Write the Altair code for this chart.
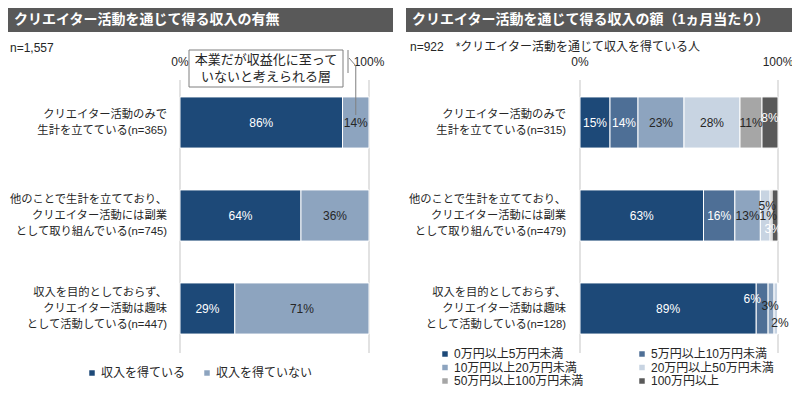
import altair as alt
import pandas as pd

FONT = "Liberation Sans, Noto Sans CJK JP, sans-serif"
TEXT_DARK = "#262626"

# ---------------- data ----------------
left_title = "クリエイター活動を通じて得る収入の有無"
right_title = "クリエイター活動を通じて得る収入の額（1ヵ月当たり）"
left_note = "n=1,557"
right_note = "n=922　*クリエイター活動を通じて収入を得ている人"
callout_text = "本業だが収益化に至って\nいないと考えられる層"

left_rows = [
    "クリエイター活動のみで\n生計を立てている(n=365)",
    "他のことで生計を立てており、\nクリエイター活動には副業\nとして取り組んでいる(n=745)",
    "収入を目的としておらず、\nクリエイター活動は趣味\nとして活動している(n=447)",
]
right_rows = [
    "クリエイター活動のみで\n生計を立てている(n=315)",
    "他のことで生計を立てており、\nクリエイター活動には副業\nとして取り組んでいる(n=479)",
    "収入を目的としておらず、\nクリエイター活動は趣味\nとして活動している(n=128)",
]
left_series = ["収入を得ている", "収入を得ていない"]
left_values = [[86, 14], [64, 36], [29, 71]]

right_series = [
    "0万円以上5万円未満",
    "5万円以上10万円未満",
    "10万円以上20万円未満",
    "20万円以上50万円未満",
    "50万円以上100万円未満",
    "100万円以上",
]
right_values = [
    [15, 14, 23, 28, 11, 8],
    [63, 16, 13, 5, 1, 3],
    [89, 6, 3, 2, 0, 0],
]
tick_values = [0, 1]

left_colors = ["#1D4978", "#8DA4BF"]
right_colors = ["#1D4978", "#4E6F96", "#8DA4BF", "#C8D4E2", "#A6A6A6", "#595959"]
left_white_text = ["収入を得ている"]
right_white_text = ["0万円以上5万円未満", "5万円以上10万円未満", "100万円以上"]

# ---------------- tables ----------------
def long_table(rows, series, values):
    recs = []
    for r, lab in enumerate(rows):
        for s, name in enumerate(series):
            recs.append({"row": r, "label": lab, "series": name, "order": s,
                         "value": values[r][s]})
    return pd.DataFrame(recs)

ldf = long_table(left_rows, left_series, left_values)
rdf = long_table(right_rows, right_series, right_values)

# ---------------- layout ----------------
Y_RANGE = [68, 347]
L_RANGE = [172, 361]
R_RANGE = [572, 770]
LINE_H = 16

def yenc():
    return alt.Y("row:O", scale=alt.Scale(domain=[0, 1, 2], range=Y_RANGE,
                                          paddingInner=0.45, paddingOuter=0.225),
                 axis=None)

def xscale(rng):
    return alt.Scale(domain=[0, 1], range=rng, nice=False, zero=False)

def stacked(df):
    return (alt.Chart(df)
            .transform_stack(stack="value", groupby=["row"], as_=["v0", "v1"],
                             offset="normalize", sort=[alt.SortField("order")])
            .transform_calculate(mid="(datum.v0 + datum.v1) / 2",
                                 lbl="datum.value + '%'"))

def bars(df, rng, series, colors, legend):
    return stacked(df).mark_bar(stroke="white", strokeWidth=1).encode(
        x=alt.X("v0:Q", scale=xscale(rng), axis=None),
        x2="v1:Q",
        y=yenc(),
        color=alt.Color("series:N", scale=alt.Scale(domain=series, range=colors),
                        legend=legend),
        order=alt.Order("order:Q"),
    )

def labels(df, rng, white, filt=None, dx=0, dy=0):
    base = stacked(df).transform_filter("datum.value > 0")
    if filt is not None:
        base = base.transform_filter(filt)
    wl = "[" + ",".join("'" + w + "'" for w in white) + "]"
    base = base.transform_calculate(
        tc=f"indexof({wl}, datum.series) >= 0 ? 'white' : '{TEXT_DARK}'")
    return base.mark_text(font=FONT, fontSize=12, baseline="middle", align="center",
                          dx=dx, dy=dy).encode(
        x=alt.X("mid:Q", scale=xscale(rng), axis=None),
        y=yenc(),
        text="lbl:N",
        color=alt.Color("tc:N", scale=None),
    )

def row_labels(rows, xpix):
    df = pd.DataFrame({"row": list(range(len(rows))), "label": rows})
    out = []
    for n in (2, 3):
        out.append(
            alt.Chart(df)
            .transform_calculate(nl="split(datum.label, '\\n').length")
            .transform_filter(f"datum.nl == {n}")
            .mark_text(font=FONT, fontSize=11.3, align="right", baseline="middle",
                       lineBreak="\n", lineHeight=LINE_H, color=TEXT_DARK,
                       dy=-(n - 1) * LINE_H / 2)
            .encode(x=alt.value(xpix), y=yenc(), text="label:N"))
    return out

def gridlines(rng):
    df = pd.DataFrame({"t": tick_values})
    rule = alt.Chart(df).mark_rule(color="#D9D9D9", strokeWidth=1.5).encode(
        x=alt.X("t:Q", scale=xscale(rng), axis=None),
        y=alt.value(72), y2=alt.value(345))
    txt = alt.Chart(df).transform_calculate(
        tl="format(datum.t, '.0%')").mark_text(
        font=FONT, fontSize=12, color=TEXT_DARK, baseline="middle").encode(
        x=alt.X("t:Q", scale=xscale(rng), axis=None),
        y=alt.value(54), text="tl:N")
    return rule, txt

def title_bar(text, x0, x1):
    df = pd.DataFrame({"t": [text]})
    rect = alt.Chart(df).mark_rect(color="#595959").encode(
        x=alt.value(x0), x2=alt.value(x1), y=alt.value(0), y2=alt.value(24))
    txt = alt.Chart(df).mark_text(font=FONT, fontSize=14, fontWeight="bold",
                                  color="white", align="left",
                                  baseline="middle").encode(
        x=alt.value(x0 + 6), y=alt.value(12), text="t:N")
    return rect, txt

def note(text, x, y):
    return alt.Chart(pd.DataFrame({"t": [text]})).mark_text(
        font=FONT, fontSize=12, color=TEXT_DARK, align="left",
        baseline="middle").encode(x=alt.value(x), y=alt.value(y), text="t:N")

leg_common = dict(orient="none", title=None, symbolType="square", symbolSize=30,
                  symbolStrokeWidth=0, labelFont=FONT, labelFontSize=12,
                  labelColor=TEXT_DARK, labelOffset=3, padding=0,
                  direction="horizontal", labelLimit=300)
left_legend = alt.Legend(legendX=78, legendY=359, columnPadding=15, **leg_common)
right_legend = alt.Legend(legendX=431, legendY=340, columns=2, columnPadding=52,
                          rowPadding=1.5, **leg_common)

# title bars & notes
lt_rect, lt_txt = title_bar(left_title, 0, 385)
rt_rect, rt_txt = title_bar(right_title, 398, 784)
l_note = note(left_note, 2, 40)
r_note = note(right_note, 402, 39)

lg_rule, lg_txt = gridlines(L_RANGE)
rg_rule, rg_txt = gridlines(R_RANGE)

# callout box
cdf = pd.DataFrame({"t": [callout_text]})
c_box = alt.Chart(cdf).mark_rect(fill="white", stroke="#7F7F7F", strokeWidth=1).encode(
    x=alt.value(181), x2=alt.value(335), y=alt.value(42), y2=alt.value(79))
c_txt = alt.Chart(cdf).mark_text(font=FONT, fontSize=13, color=TEXT_DARK,
                                 align="center", baseline="middle", lineBreak="\n",
                                 lineHeight=17).encode(
    x=alt.value(258), y=alt.value(52), text="t:N")
c_bracket = alt.Chart(cdf).mark_rule(color="#7F7F7F", strokeWidth=1).encode(
    x=alt.value(340), x2=alt.value(340), y=alt.value(42), y2=alt.value(65))
c_diag = alt.Chart(cdf).mark_rule(color="#7F7F7F", strokeWidth=1).encode(
    x=alt.value(341), x2=alt.value(348), y=alt.value(50), y2=alt.value(58))
c_lead = stacked(ldf).transform_filter(
    f"datum.row == 0 && datum.series == '{left_series[1]}'").mark_rule(
    color="#7F7F7F", strokeWidth=1).encode(
    x=alt.X("mid:Q", scale=xscale(L_RANGE), axis=None),
    y=alt.value(58), y2=alt.value(107))

# right-panel label nudges for narrow segments: (row, series index) -> (dx, dy)
nudges = {(0, 5): (0, -5), (1, 3): (2, -10), (1, 4): (-3, 0), (1, 5): (-2, 13),
          (2, 1): (-10, -10), (2, 2): (-1, -3), (2, 3): (4, 14)}
excl = " && ".join(f"!(datum.row == {r} && datum.order == {s})" for (r, s) in nudges)
r_labels = [labels(rdf, R_RANGE, right_white_text, filt=excl)]
for (r, s), (dx, dy) in nudges.items():
    r_labels.append(labels(rdf, R_RANGE, right_white_text,
                           filt=f"datum.row == {r} && datum.order == {s}",
                           dx=dx, dy=dy))

layers = [
    lt_rect, lt_txt, rt_rect, rt_txt, l_note, r_note,
    lg_rule, rg_rule, lg_txt, rg_txt,
    *row_labels(left_rows, 159), *row_labels(right_rows, 558),
    bars(ldf, L_RANGE, left_series, left_colors, left_legend),
    bars(rdf, R_RANGE, right_series, right_colors, right_legend),
    labels(ldf, L_RANGE, left_white_text),
    *r_labels,
    c_lead, c_box, c_txt, c_bracket, c_diag,
]

chart = (alt.layer(*layers)
         .resolve_scale(x="independent", color="independent")
         .resolve_legend(color="independent")
         .properties(width=784, height=381, padding=0,
                     autosize=alt.AutoSizeParams(type="none"))
         .configure_view(stroke=None))

chart.save("out.html", embed_options={"renderer": "svg", "actions": False})
